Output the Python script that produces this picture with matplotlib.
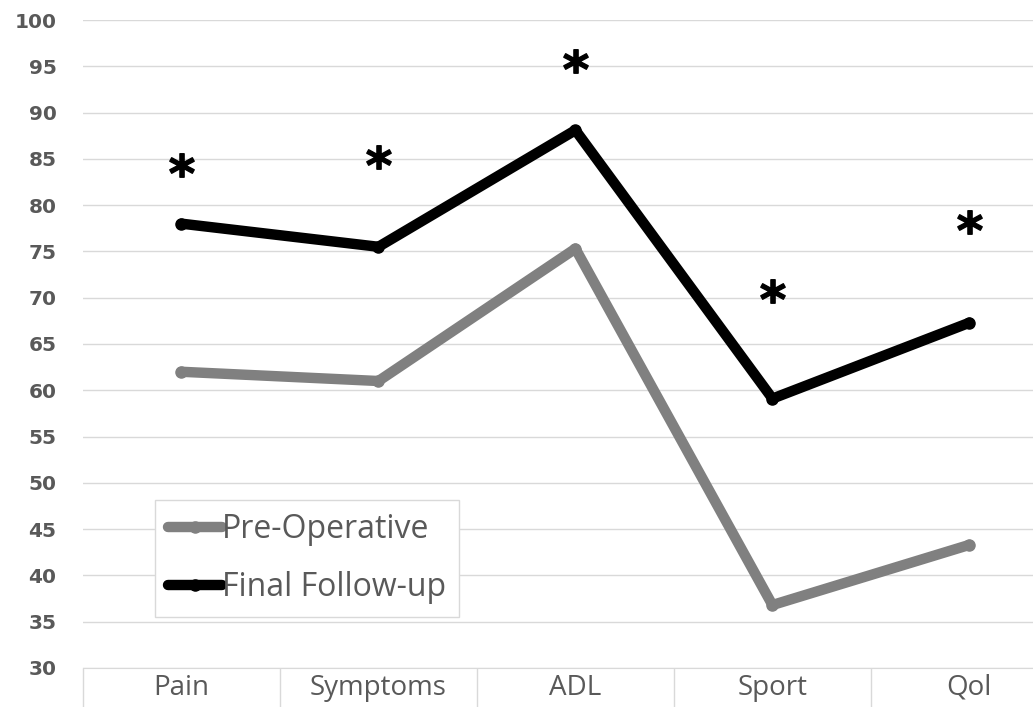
import matplotlib
matplotlib.use("Agg")
import matplotlib.pyplot as plt
import numpy as np
from matplotlib.textpath import TextPath
from matplotlib.font_manager import FontProperties
from matplotlib.path import Path

# KOOS subscale scores
categories = ["Pain", "Symptoms", "ADL", "Sport", "Qol"]
pre_op = [62.0, 61.0, 75.3, 36.8, 43.3]
final_fu = [78.0, 75.5, 88.1, 59.1, 67.3]
# significance markers (y position of asterisk)
star_y = [83.6, 84.4, 94.8, 70.0, 77.4]

GRID = "#d9d9d9"
TXT = "#595959"

# bold asterisk marker, centred on its own bbox
tp = TextPath((0, 0), "*", prop=FontProperties(family="DejaVu Sans", weight="bold"))
v = tp.vertices.copy()
v -= (v.min(axis=0) + v.max(axis=0)) / 2
star = Path(v, tp.codes)

fig = plt.figure(figsize=(10.33, 7.07), dpi=100)
ax = fig.add_axes([0.0803, 0.0552, 0.9535, 0.9165])

x = np.arange(len(categories))

ax.plot(x, pre_op, color="#808080", lw=7.5, marker="o", ms=8,
        solid_capstyle="round", solid_joinstyle="round", label="Pre-Operative", zorder=3)
ax.plot(x, final_fu, color="black", lw=7.5, marker="o", ms=8,
        solid_capstyle="round", solid_joinstyle="round", label="Final Follow-up", zorder=3)
ax.plot(x, star_y, ls="none", marker=star, ms=27, color="black", zorder=4)

ax.set_xlim(-0.5, len(categories) - 0.5)
ax.set_ylim(30, 100)
ax.set_yticks(np.arange(30, 101, 5))
ax.grid(axis="y", color=GRID, lw=1)
ax.set_axisbelow(True)

for s in ["top", "right", "left"]:
    ax.spines[s].set_visible(False)
ax.spines["bottom"].set_color(GRID)

# category labels and separators below the axis
ax.set_xticks(x)
ax.set_xticklabels(categories, fontsize=20, color=TXT, family="Open Sans")
ax.set_xticks(np.arange(-0.5, len(categories), 1), minor=True)
ax.tick_params(axis="x", which="major", length=0, pad=4)
ax.tick_params(axis="x", which="minor", length=32, color=GRID, width=1)

ax.tick_params(axis="y", length=0, pad=19)
for lab in ax.get_yticklabels():
    lab.set_fontweight("bold")
    lab.set_fontsize(14.5)
    lab.set_color(TXT)

leg = ax.legend(loc="upper left", bbox_to_anchor=(0.073, 0.259), borderaxespad=0,
                handlelength=1.7, handletextpad=0.0, borderpad=0.4,
                labelspacing=0.8, fancybox=False, framealpha=1,
                edgecolor=GRID, prop={"family": "Open Sans", "size": 23})
for t in leg.get_texts():
    t.set_color(TXT)

fig.savefig("out.png", dpi=100)
